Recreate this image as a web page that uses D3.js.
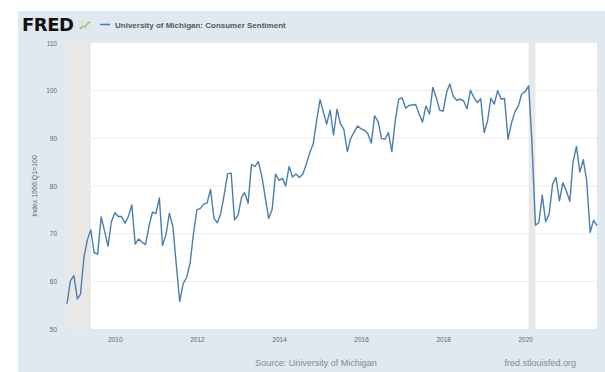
<!DOCTYPE html>
<html><head><meta charset="utf-8">
<script src="https://cdn.jsdelivr.net/npm/d3@7"></script>
<style>html,body{margin:0;padding:0;background:#fff;}svg{display:block;}</style>
</head><body>
<script>
const startMonth = "2008-11";
const values = [
 55.3,60.1,
 61.2,56.3,57.3,65.1,68.7,70.8,66.0,65.7,73.5,70.6,67.4,72.5,
 74.4,73.6,73.6,72.2,73.6,76.0,67.8,68.9,68.2,67.7,71.6,74.5,
 74.2,77.5,67.5,69.8,74.3,71.5,63.7,55.8,59.5,60.8,63.7,69.9,
 75.0,75.3,76.2,76.4,79.3,73.2,72.3,74.3,78.3,82.6,82.7,72.9,
 73.8,77.6,78.6,76.4,84.5,84.1,85.1,82.1,77.5,73.2,75.1,82.5,
 81.2,81.6,80.0,84.1,81.9,82.5,81.8,82.5,84.6,86.9,88.8,93.6,
 98.1,95.4,93.0,95.9,90.7,96.1,93.1,91.9,87.2,90.0,91.3,92.6,
 92.0,91.7,91.0,89.0,94.7,93.5,90.0,89.8,91.2,87.2,93.8,98.2,
 98.5,96.3,96.9,97.0,97.1,95.1,93.4,96.8,95.1,100.7,98.5,95.9,
 95.7,99.7,101.4,98.8,98.0,98.2,97.9,96.2,100.1,98.6,97.5,98.3,
 91.2,93.8,98.4,97.2,100.0,98.2,98.4,89.8,93.2,95.5,96.8,99.3,
 99.8,101.0,89.1,71.8,72.3,78.1,72.5,74.1,80.4,81.8,76.9,80.7,
 79.0,76.8,84.9,88.3,82.9,85.5,81.2,70.3,72.8,71.7
];
const recessions = [["2008-11","2009-06"],["2020-02","2020-04"]];
const yTicks = [50,60,70,80,90,100,110];
const xTickYears = [2010,2012,2014,2016,2018,2020];
const seriesTitle = "University of Michigan: Consumer Sentiment";
const yTitle = "Index 1966:Q1=100";
const sourceText = "Source: University of Michigan";
const siteText = "fred.stlouisfed.org";

const parse = d3.timeParse("%Y-%m");
const t0 = parse(startMonth);
const data = values.map((v,i)=>({date:d3.timeMonth.offset(t0,i), value:v}));

const W=605,H=372;
const svg = d3.select("body").append("svg").attr("width",W).attr("height",H);
const font = "'Liberation Sans', Arial, sans-serif";

svg.append("rect").attr("x",0).attr("y",0).attr("width",W).attr("height",H).attr("fill","#ffffff");
svg.append("rect").attr("x",18).attr("y",11).attr("width",W-18).attr("height",H-11).attr("fill","#e0e9f0");

const L=67,R=597,T=43,B=329;
const x = d3.scaleTime().domain([data[0].date, data[data.length-1].date]).range([L,R]);
const y = d3.scaleLinear().domain([50,110]).range([B,T]);

svg.append("rect").attr("x",L).attr("y",T).attr("width",R-L).attr("height",B-T).attr("fill","#ffffff");

// recessions
svg.selectAll("rect.rec").data(recessions).enter().append("rect").attr("class","rec")
  .attr("x",d=>x(parse(d[0]))).attr("y",T)
  .attr("width",d=>Math.max(2,x(parse(d[1]))-x(parse(d[0]))))
  .attr("height",B-T).attr("fill","#e9e8e7");

// gridlines
svg.selectAll("line.grid").data(yTicks.filter(v=>v>50 && v<110)).enter().append("line").attr("class","grid")
  .attr("x1",L).attr("x2",R).attr("y1",d=>y(d)).attr("y2",d=>y(d))
  .attr("stroke","#ececec").attr("stroke-width",1);

// y labels
const yAxis = d3.axisLeft(y).tickValues(yTicks).tickSize(0).tickPadding(0).tickFormat(d3.format("d"));
const gy = svg.append("g").attr("transform",`translate(${L-10},0)`).call(yAxis);
gy.select(".domain").remove();
gy.selectAll("text").attr("font-family",font).attr("font-size","6.5px").attr("fill","#666");

// x labels
const xAxis = d3.axisBottom(x).tickValues(xTickYears.map(yr=>new Date(yr,0,1))).tickSize(0).tickPadding(0).tickFormat(d3.timeFormat("%Y"));
const gx = svg.append("g").attr("transform",`translate(0,${B+8})`).call(xAxis);
gx.select(".domain").remove();
gx.selectAll("text").attr("font-family",font).attr("font-size","6.5px").attr("fill","#666");

// line
const line = d3.line().x(d=>x(d.date)).y(d=>y(d.value));
svg.append("path").datum(data).attr("d",line).attr("fill","none")
  .attr("stroke","#4a7eae").attr("stroke-width",1.4).attr("stroke-linejoin","round");

// y title
svg.append("text").attr("transform",`translate(37,${(T+B)/2}) rotate(-90)`)
  .attr("text-anchor","middle").attr("font-family",font).attr("font-size","7px").attr("fill","#666").text(yTitle);

// header: FRED logo
svg.append("text").attr("x",22).attr("y",31).attr("font-family","'DejaVu Sans', Arial, sans-serif")
  .attr("font-weight","bold").attr("font-size","18px").attr("letter-spacing","-0.5px").attr("fill","#111").text("FRED");
// small icon
const ic = svg.append("g").attr("transform","translate(79,20)");
ic.append("rect").attr("x",0).attr("y",0).attr("width",12).attr("height",10).attr("fill","#dde5dc");
ic.append("path").attr("d","M1,9 L4,6 L6,7 L9,3 L11,2").attr("fill","none").attr("stroke","#8cb48c").attr("stroke-width",1.2);
// legend
svg.append("line").attr("x1",100).attr("x2",110).attr("y1",24.5).attr("y2",24.5).attr("stroke","#4a7eae").attr("stroke-width",1.5);
svg.append("text").attr("x",115).attr("y",27.5).attr("font-family",font).attr("font-weight","bold")
  .attr("font-size","8px").attr("fill","#4d5a66").text(seriesTitle);

// footer
svg.append("text").attr("x",316).attr("y",366).attr("text-anchor","middle").attr("font-family",font)
  .attr("font-size","9px").attr("fill","#888").text(sourceText);
svg.append("text").attr("x",576).attr("y",366).attr("text-anchor","end").attr("font-family",font)
  .attr("font-size","9px").attr("fill","#888").text(siteText);
</script>
</body></html>
